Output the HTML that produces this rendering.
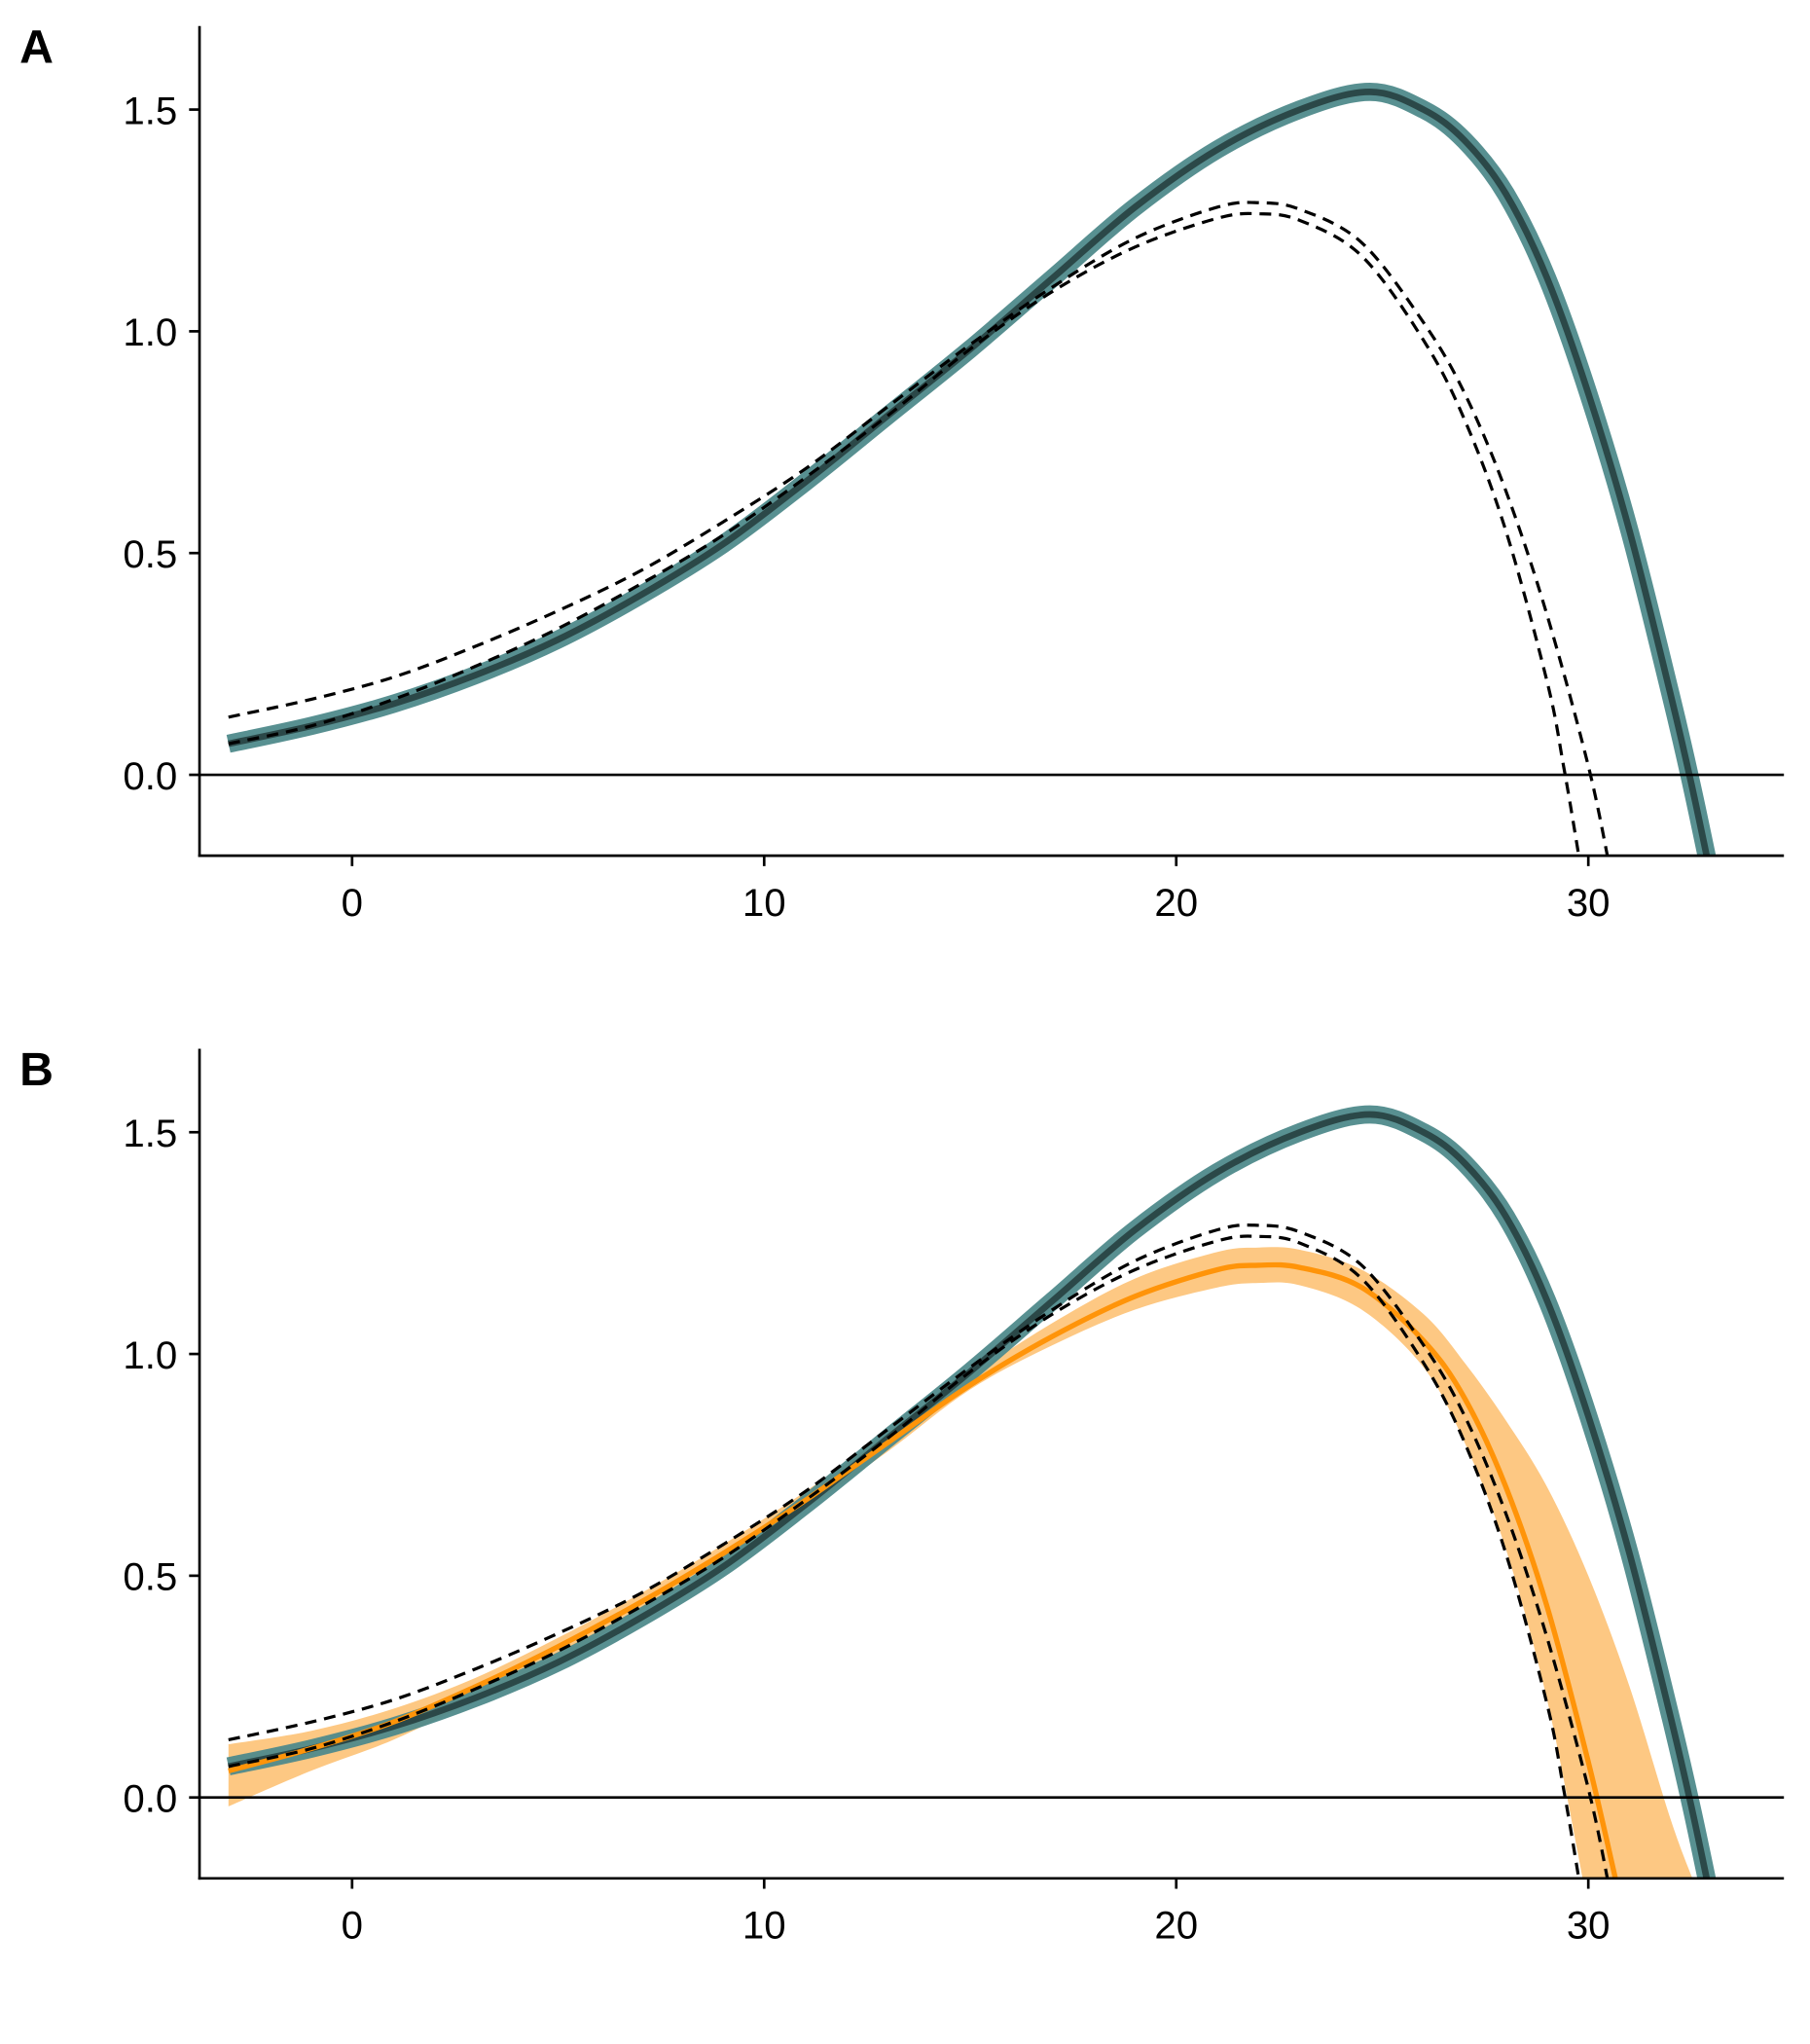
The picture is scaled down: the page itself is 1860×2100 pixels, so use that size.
<!DOCTYPE html>
<html><head><meta charset="utf-8">
<style>
html,body{margin:0;padding:0;background:#fff;}
svg{display:block;}
text{font-family:"Liberation Sans",sans-serif;fill:#000;}
</style></head>
<body>
<svg id="chart" width="1860" height="2100" viewBox="0 0 1388 1567" preserveAspectRatio="none" xmlns="http://www.w3.org/2000/svg">
<defs>
<clipPath id="clipA"><rect x="153" y="0" width="1220" height="656"/></clipPath>
<clipPath id="clipB"><rect x="153" y="784" width="1220" height="656"/></clipPath>
</defs>
</svg>
<script>
// Data arrays
const xTicks = [0, 10, 20, 30];
const yTicks = [0.0, 0.5, 1.0, 1.5];
const yTickLabels = ["0.0", "0.5", "1.0", "1.5"];
const tealX = [-3, -1, 1, 3, 5, 7, 9, 11, 13, 15, 17, 19, 21, 23, 24.7, 26, 27, 28, 29, 30, 31, 32, 32.5, 33];
const tealY = [0.07, 0.11, 0.16, 0.225, 0.305, 0.405, 0.52, 0.66, 0.81, 0.96, 1.12, 1.28, 1.41, 1.5, 1.54, 1.5, 1.43, 1.31, 1.12, 0.86, 0.55, 0.18, -0.02, -0.24];
const dashUpX = [-3, -1, 1, 3, 5, 7, 9, 11, 13, 15, 17, 19, 21, 22, 23, 24.5, 26, 27, 28, 29, 30, 30.5];
const dashUpY = [0.13, 0.17, 0.22, 0.29, 0.37, 0.46, 0.57, 0.69, 0.83, 0.97, 1.1, 1.21, 1.28, 1.29, 1.275, 1.2, 1.02, 0.86, 0.64, 0.36, 0.02, -0.2];
const dashLoX = [-3, -1, 1, 3, 5, 7, 9, 11, 13, 15, 17, 19, 21, 22, 23, 24.5, 26, 27, 28, 29, 29.4, 29.8];
const dashLoY = [0.07, 0.11, 0.17, 0.245, 0.33, 0.43, 0.54, 0.67, 0.81, 0.96, 1.09, 1.19, 1.255, 1.265, 1.25, 1.17, 0.98, 0.8, 0.55, 0.21, 0.02, -0.2];
const orangeX = [-3, -1, 1, 3, 5, 7, 9, 11, 13, 15, 17, 19, 21, 22, 23, 24.5, 26, 27, 28, 29, 30, 30.7];
const orangeY = [0.06, 0.11, 0.17, 0.25, 0.34, 0.44, 0.55, 0.67, 0.8, 0.93, 1.04, 1.13, 1.19, 1.2, 1.195, 1.15, 1.03, 0.9, 0.7, 0.43, 0.08, -0.2];
const orangeHiX = [-3, -1, 1, 3, 5, 7, 9, 11, 13, 15, 17, 19, 21, 22, 23, 24.5, 26, 27, 28, 29, 30, 31, 32, 32.6];
const orangeHiY = [0.12, 0.15, 0.2, 0.27, 0.36, 0.46, 0.57, 0.69, 0.82, 0.95, 1.07, 1.17, 1.23, 1.24, 1.235, 1.19, 1.09, 0.98, 0.85, 0.7, 0.5, 0.25, -0.05, -0.2];
const orangeLoX = [-3, -1, 1, 3, 5, 7, 9, 11, 13, 15, 17, 19, 21, 22, 23, 24.5, 26, 27, 28, 29, 29.9];
const orangeLoY = [-0.02, 0.06, 0.13, 0.22, 0.31, 0.42, 0.53, 0.65, 0.78, 0.92, 1.02, 1.1, 1.15, 1.16, 1.155, 1.1, 0.97, 0.8, 0.56, 0.22, -0.2];

const NS = "http://www.w3.org/2000/svg";
const svg = document.getElementById("chart");
const xs = v => 270 + v * 31.6;
function ysFor(off){ return v => 594 + off - v * 340; }

function mk(tag, attrs, parent){
  const e = document.createElementNS(NS, tag);
  for (const k in attrs) e.setAttribute(k, attrs[k]);
  (parent || svg).appendChild(e);
  return e;
}
function pathD(X, Y, ys){
  const p = X.map((x,i)=>[xs(x), ys(Y[i])]);
  let d = "M" + p[0][0].toFixed(1) + "," + p[0][1].toFixed(1);
  for (let i=0;i<p.length-1;i++){
    const p0=p[Math.max(0,i-1)], p1=p[i], p2=p[i+1], p3=p[Math.min(p.length-1,i+2)];
    const c1=[p1[0]+(p2[0]-p0[0])/6, p1[1]+(p2[1]-p0[1])/6];
    const c2=[p2[0]-(p3[0]-p1[0])/6, p2[1]-(p3[1]-p1[1])/6];
    d += " C"+c1[0].toFixed(1)+","+c1[1].toFixed(1)+" "+c2[0].toFixed(1)+","+c2[1].toFixed(1)+" "+p2[0].toFixed(1)+","+p2[1].toFixed(1);
  }
  return d;
}
function bandD(XH, YH, XL, YL, ys){
  const hi = pathD(XH, YH, ys);
  const rx = XL.slice().reverse(), ry = YL.slice().reverse();
  const lo = pathD(rx, ry, ys).replace(/^M/, "L");
  return hi + " " + lo + " Z";
}

function panel(off, label, withOrange){
  const ys = ysFor(off);
  const g = mk("g", {});
  
  
  const plot = mk("g", {"clip-path": "url(#clip" + label + ")"}, g);

  const zl = mk("line", {x1:153, x2:1368, y1:ys(0), y2:ys(0), stroke:"#000", "stroke-width":2}, g);
  
  

  if (withOrange){
    const ob = mk("path", {d: bandD(orangeHiX, orangeHiY, orangeLoX, orangeLoY, ys), fill:"#fdc883"}, plot);
    
    
  }
  const tb = mk("path", {d: pathD(tealX, tealY, ys), fill:"none", stroke:"#4f8a8b", "stroke-width":14, "stroke-opacity":0.95}, plot);
  
  
  const tl = mk("path", {d: pathD(tealX, tealY, ys), fill:"none", stroke:"#2b4848", "stroke-width":5}, plot);
  
  
  if (withOrange){
    const ol = mk("path", {d: pathD(orangeX, orangeY, ys), fill:"none", stroke:"#ff9409", "stroke-width":4}, plot);
    
    
  }
  const du = mk("path", {d: pathD(dashUpX, dashUpY, ys), fill:"none", stroke:"#000", "stroke-width":2.4, "stroke-dasharray":"9,6"}, plot);
  
  
  const dl = mk("path", {d: pathD(dashLoX, dashLoY, ys), fill:"none", stroke:"#000", "stroke-width":2.4, "stroke-dasharray":"9,6"}, plot);
  
  

  const ya = mk("line", {x1:153, x2:153, y1:20+off, y2:657+off, stroke:"#000", "stroke-width":2}, g);
  
  
  const xa = mk("line", {x1:152, x2:1368, y1:656+off, y2:656+off, stroke:"#000", "stroke-width":2}, g);
  
  

  xTicks.forEach(v=>{
    const t = mk("line", {x1:xs(v), x2:xs(v), y1:656+off, y2:664+off, stroke:"#000", "stroke-width":2}, g);
    
    
    const tx = mk("text", {x:xs(v), y:702+off, "text-anchor":"middle", "font-size":30}, g);
    tx.textContent = String(v);
    
    
  });
  yTicks.forEach((v,i)=>{
    const t = mk("line", {x1:145, x2:153, y1:ys(v), y2:ys(v), stroke:"#000", "stroke-width":2}, g);
    
    
    const tx = mk("text", {x:136, y:ys(v)+11, "text-anchor":"end", "font-size":30}, g);
    tx.textContent = yTickLabels[i];
    
    
  });
  const pl = mk("text", {x:15, y:48+off, "font-size":36, "font-weight":"bold"}, g);
  pl.textContent = label;
  
  
}
panel(0, "A", false);
panel(784, "B", true);
</script>
</body></html>
